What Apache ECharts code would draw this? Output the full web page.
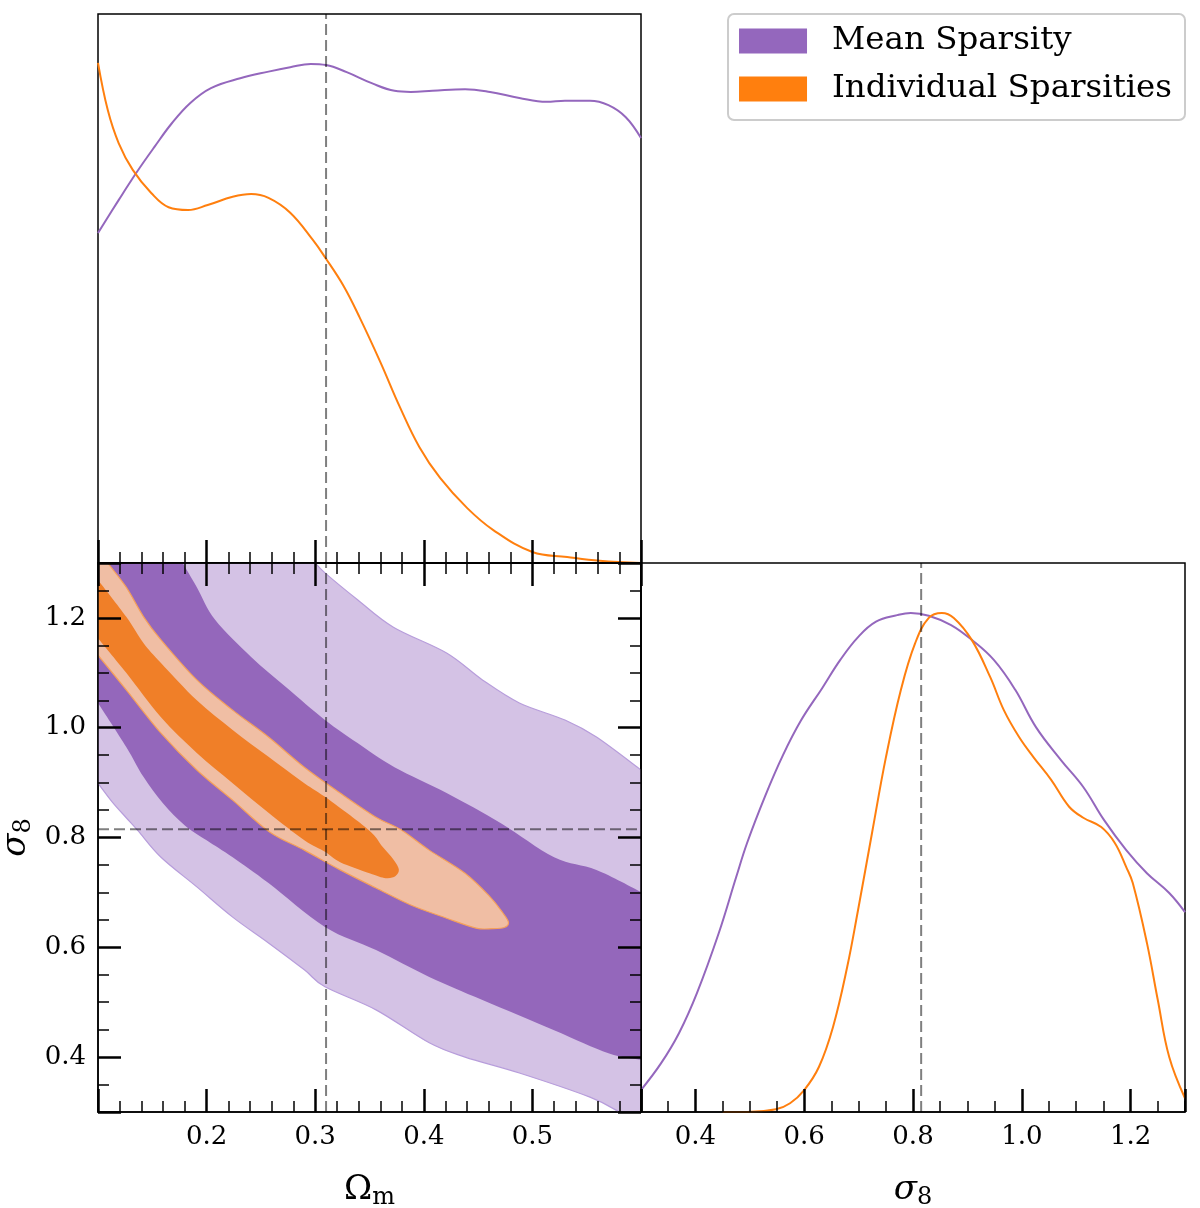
<!DOCTYPE html>
<html><head><meta charset="utf-8">
<script src="https://cdn.jsdelivr.net/npm/echarts@6/dist/echarts.min.js"></script>
<style>html,body{margin:0;padding:0;background:#fff}#c{width:1200px;height:1208px}</style>
</head><body><div id="c"></div>
<script>
// ---------- data ----------
const seriesNames = ['Mean Sparsity', 'Individual Sparsities'];
const truthOm = 0.31;
const truthS8 = 0.815;
const omRange = [0.1, 0.6];
const s8Range = [0.3, 1.3];

// 1D marginal of Omega_m (normalised height)
const meanOmX = [0.100,0.119,0.135,0.152,0.168,0.185,0.204,0.231,0.257,0.277,0.296,0.310,0.329,0.352,0.373,0.388,0.408,0.438,0.461,0.488,0.513,0.530,0.553,0.570,0.586,0.600];
const meanOmY = [0.601,0.661,0.710,0.758,0.801,0.838,0.865,0.883,0.895,0.903,0.909,0.907,0.894,0.874,0.860,0.858,0.860,0.863,0.858,0.847,0.840,0.842,0.842,0.834,0.812,0.774];
const indOmX  = [0.100,0.109,0.119,0.132,0.149,0.165,0.183,0.201,0.224,0.241,0.257,0.277,0.298,0.309,0.326,0.341,0.360,0.378,0.396,0.415,0.440,0.464,0.500,0.532,0.562,0.600];
const indOmY  = [0.911,0.825,0.765,0.716,0.674,0.648,0.643,0.652,0.667,0.672,0.665,0.638,0.588,0.557,0.505,0.447,0.366,0.284,0.211,0.155,0.100,0.060,0.020,0.011,0.004,0.000];

// 1D marginal of sigma_8
const meanS8X = [0.300,0.337,0.370,0.403,0.443,0.475,0.495,0.528,0.561,0.594,0.633,0.666,0.699,0.732,0.771,0.796,0.829,0.870,0.908,0.949,0.988,1.026,1.072,1.113,1.151,1.192,1.230,1.271,1.300];
const meanS8Y = [0.040,0.089,0.144,0.217,0.326,0.428,0.490,0.575,0.650,0.713,0.772,0.823,0.865,0.893,0.905,0.909,0.904,0.887,0.860,0.823,0.769,0.701,0.641,0.592,0.532,0.477,0.435,0.399,0.364];
const indS8X  = [0.450,0.495,0.548,0.574,0.600,0.627,0.653,0.679,0.699,0.725,0.750,0.778,0.804,0.829,0.853,0.875,0.908,0.942,0.967,0.995,1.021,1.054,1.087,1.113,1.146,1.171,1.192,1.204,1.230,1.250,1.271,1.300];
const indS8Y  = [0.000,0.000,0.005,0.016,0.040,0.082,0.155,0.264,0.368,0.510,0.645,0.770,0.854,0.900,0.909,0.900,0.860,0.792,0.732,0.683,0.647,0.605,0.556,0.536,0.519,0.490,0.446,0.417,0.308,0.204,0.100,0.025];

// 2D contour boundaries [Omega_m, sigma_8]
const meanOuterUpper = [[0.300,1.300],[0.309,1.282],[0.339,1.233],[0.372,1.183],[0.421,1.136],[0.454,1.087],[0.488,1.045],[0.530,1.014],[0.559,0.983],[0.600,0.923]];
const meanOuterLower = [[0.580,0.300],[0.553,0.327],[0.488,0.371],[0.438,0.400],[0.405,0.426],[0.356,0.486],[0.309,0.528],[0.290,0.559],[0.257,0.608],[0.224,0.655],[0.191,0.710],[0.158,0.764],[0.137,0.812],[0.126,0.836],[0.113,0.865],[0.100,0.899]];
const meanInnerUpper = [[0.178,1.300],[0.191,1.256],[0.208,1.196],[0.241,1.129],[0.273,1.074],[0.309,1.014],[0.339,0.972],[0.373,0.928],[0.421,0.881],[0.471,0.826],[0.520,0.764],[0.559,0.741],[0.600,0.701]];
const meanInnerLower = [[0.600,0.395],[0.570,0.407],[0.520,0.449],[0.454,0.504],[0.405,0.546],[0.356,0.595],[0.309,0.637],[0.257,0.717],[0.224,0.764],[0.200,0.795],[0.180,0.822],[0.160,0.862],[0.142,0.910],[0.126,0.965],[0.100,1.045]];
const indOuterEdge = [[0.109,1.300],[0.126,1.256],[0.142,1.202],[0.158,1.160],[0.191,1.087],[0.224,1.032],[0.257,0.983],[0.290,0.928],[0.323,0.881],[0.356,0.837],[0.379,0.814],[0.405,0.777],[0.438,0.735],[0.461,0.692],[0.473,0.662],[0.478,0.645],[0.474,0.636],[0.463,0.634],[0.448,0.635],[0.421,0.653],[0.388,0.677],[0.356,0.708],[0.323,0.741],[0.290,0.777],[0.258,0.810],[0.224,0.868],[0.191,0.923],[0.158,0.990],[0.126,1.069],[0.100,1.132]];
const indInnerEdge = [[0.100,1.269],[0.126,1.202],[0.142,1.154],[0.158,1.118],[0.191,1.050],[0.224,0.996],[0.257,0.947],[0.290,0.899],[0.309,0.874],[0.349,0.814],[0.362,0.783],[0.372,0.760],[0.377,0.742],[0.374,0.730],[0.365,0.726],[0.350,0.735],[0.323,0.755],[0.309,0.774],[0.290,0.795],[0.257,0.845],[0.224,0.899],[0.191,0.954],[0.158,1.019],[0.126,1.100],[0.100,1.163]];

// ---------- styles ----------
const PURPLE = '#9467bd', ORANGE = '#ff7f0e';
const FONT = 'DejaVu Serif';
const zip = (xs, ys) => xs.map((x, i) => [x, ys[i]]);

const tickCommon = () => ({
  z: 20,
  axisLine: { show: true, onZero: false, lineStyle: { color: '#000', width: 1.5 } },
  axisTick: { show: true, inside: true, length: 23, lineStyle: { color: '#000', width: 2.5 } },
  splitLine: { show: false },
});
const labelStyle = (show) => ({ show, showMinLabel: false, showMaxLabel: false, margin: 12, color: '#000', fontFamily: FONT, fontSize: 26, formatter: v => v.toFixed(1) });
function omAxis(gridIndex, position, labels, name) {
  return Object.assign({
    type: 'value', gridIndex, position, min: omRange[0], max: omRange[1], interval: 0.1,
    minorTick: { show: true, splitNumber: 5, length: 11, lineStyle: { color: '#000', width: 1.5 } },
    axisLabel: labelStyle(labels),
  }, tickCommon(), name ? {
    name: name, nameLocation: 'middle', nameGap: 58,
    nameTextStyle: { rich: {
      a: { fontFamily: FONT, fontSize: 34, color: '#000' },
      b: { fontFamily: FONT, fontSize: 24, color: '#000', padding: [16, 0, 0, 0] }
    } }
  } : {});
}
function s8Axis(gridIndex, position, labels, name, isY) {
  return Object.assign({
    type: 'value', gridIndex, position, min: s8Range[0], max: s8Range[1], splitNumber: 5,
    minorTick: { show: true, splitNumber: 4, length: 11, lineStyle: { color: '#000', width: 1.5 } },
    axisLabel: labelStyle(labels),
  }, tickCommon(), name ? {
    name: name, nameLocation: 'middle', nameGap: isY ? 62 : 58, nameRotate: isY ? 90 : 0,
    nameTextStyle: { rich: {
      a: { fontFamily: FONT, fontSize: 34, fontStyle: 'italic', color: '#000' },
      b: { fontFamily: FONT, fontSize: 24, color: '#000', padding: [16, 0, 0, 0] }
    } }
  } : {});
}
const hiddenY = (gridIndex) => ({ type: 'value', gridIndex, min: 0, max: 1, show: false });

// Catmull-Rom smoothing of pixel points into cubic Bezier path commands
function smoothSeg(p) {
  let d = '';
  for (let i = 0; i < p.length - 1; i++) {
    const p0 = p[i - 1] || p[i], p1 = p[i], p2 = p[i + 1], p3 = p[i + 2] || p[i + 1];
    const c1x = p1[0] + (p2[0] - p0[0]) / 6, c1y = p1[1] + (p2[1] - p0[1]) / 6;
    const c2x = p2[0] - (p3[0] - p1[0]) / 6, c2y = p2[1] - (p3[1] - p1[1]) / 6;
    d += ' C' + c1x + ',' + c1y + ' ' + c2x + ',' + c2y + ' ' + p2[0] + ',' + p2[1];
  }
  return d;
}
// pieces: [{smooth:bool, pts:[[x,y],...]}]
function region(name, pieces, fill, stroke, z) {
  const all = [].concat(...pieces.map(pc => pc.pts));
  return {
    type: 'custom', name, xAxisIndex: 1, yAxisIndex: 1, data: all, z, silent: true, clip: true,
    renderItem: function (params, api) {
      if (params.dataIndex !== 0) return null;
      let d = '';
      pieces.forEach((pc, k) => {
        const px = pc.pts.map(p => api.coord(p));
        d += (k === 0 ? 'M' : ' L') + px[0][0] + ',' + px[0][1];
        if (pc.smooth) d += smoothSeg(px);
        else for (let i = 1; i < px.length; i++) d += ' L' + px[i][0] + ',' + px[i][1];
      });
      d += ' Z';
      return { type: 'path', shape: { pathData: d },
               style: { fill: fill, stroke: stroke || null, lineWidth: stroke ? 1.2 : 0 } };
    }
  };
}
function curve(name, xi, yi, data, color) {
  return { type: 'line', name, xAxisIndex: xi, yAxisIndex: yi, data, showSymbol: false, symbol: 'none',
           smooth: 0.4, lineStyle: { color, width: 2 }, itemStyle: { color }, z: 6, silent: true };
}
function dashed(xi, yi, data) {
  return { type: 'line', name: 'truth', xAxisIndex: xi, yAxisIndex: yi, data, symbol: 'none', silent: true,
           lineStyle: { color: 'rgba(0,0,0,0.5)', width: 2, type: [11, 5] }, z: 10 };
}

const gridBase = { show: true, borderColor: '#000', borderWidth: 1.5, backgroundColor: 'transparent', containLabel: false, outerBoundsMode: 'none' };

const option = {
  animation: false,
  backgroundColor: '#fff',
  grid: [
    Object.assign({ left: 98, top: 14, width: 543, height: 549 }, gridBase),
    Object.assign({ left: 98, top: 563, width: 543, height: 549 }, gridBase),
    Object.assign({ left: 641, top: 563, width: 544, height: 549 }, gridBase),
  ],
  xAxis: [
    omAxis(0, 'bottom', false),
    omAxis(1, 'bottom', true, '{a|Ω}{b|m}'),
    omAxis(1, 'top', false),
    s8Axis(2, 'bottom', true, '{a|σ}{b|8}', false),
  ],
  yAxis: [
    hiddenY(0),
    s8Axis(1, 'left', true, '{a|σ}{b|8}', true),
    s8Axis(1, 'right', false),
    hiddenY(2),
  ],
  legend: {
    orient: 'vertical', right: 15, top: 14, selectedMode: false,
    data: [
      { name: seriesNames[0], icon: 'rect', itemStyle: { color: PURPLE } },
      { name: seriesNames[1], icon: 'rect', itemStyle: { color: ORANGE } },
    ],
    itemWidth: 68, itemHeight: 25, itemGap: 14,
    textStyle: { fontFamily: FONT, fontSize: 32.5, color: '#000', lineHeight: 34, padding: [0, 0, 0, 20] },
    borderColor: '#cccccc', borderWidth: 2, borderRadius: 6, padding: [10, 13, 14, 11], backgroundColor: '#fff'
  },
  series: [
    region(seriesNames[0], [
      { smooth: false, pts: [[omRange[0], s8Range[1]]] },
      { smooth: true, pts: meanOuterUpper },
      { smooth: false, pts: [[omRange[1], s8Range[0]]] },
      { smooth: true, pts: meanOuterLower },
    ], '#d4c2e5', '#b79ddb', 1),
    region(seriesNames[0], [
      { smooth: false, pts: [[omRange[0], s8Range[1]]] },
      { smooth: true, pts: meanInnerUpper },
      { smooth: true, pts: meanInnerLower },
    ], '#9467bb', null, 2),
    region(seriesNames[1], [
      { smooth: false, pts: [[omRange[0], s8Range[1]]] },
      { smooth: true, pts: indOuterEdge },
    ], '#f0bea4', '#f5a05a', 3),
    region(seriesNames[1], [
      { smooth: true, pts: indInnerEdge },
    ], '#f07f28', null, 4),
    curve(seriesNames[0], 0, 0, zip(meanOmX, meanOmY), PURPLE),
    curve(seriesNames[1], 0, 0, zip(indOmX, indOmY), ORANGE),
    curve(seriesNames[0], 3, 3, zip(meanS8X, meanS8Y), PURPLE),
    curve(seriesNames[1], 3, 3, zip(indS8X, indS8Y), ORANGE),
    dashed(0, 0, [[truthOm, 0], [truthOm, 1]]),
    dashed(1, 1, [[truthOm, s8Range[0]], [truthOm, s8Range[1]]]),
    dashed(1, 1, [[omRange[0], truthS8], [omRange[1], truthS8]]),
    dashed(3, 3, [[truthS8, 0], [truthS8, 1]]),
  ]
};
const chart = echarts.init(document.getElementById('c'), null, { renderer: 'canvas' });
chart.setOption(option);
</script>
</body></html>
